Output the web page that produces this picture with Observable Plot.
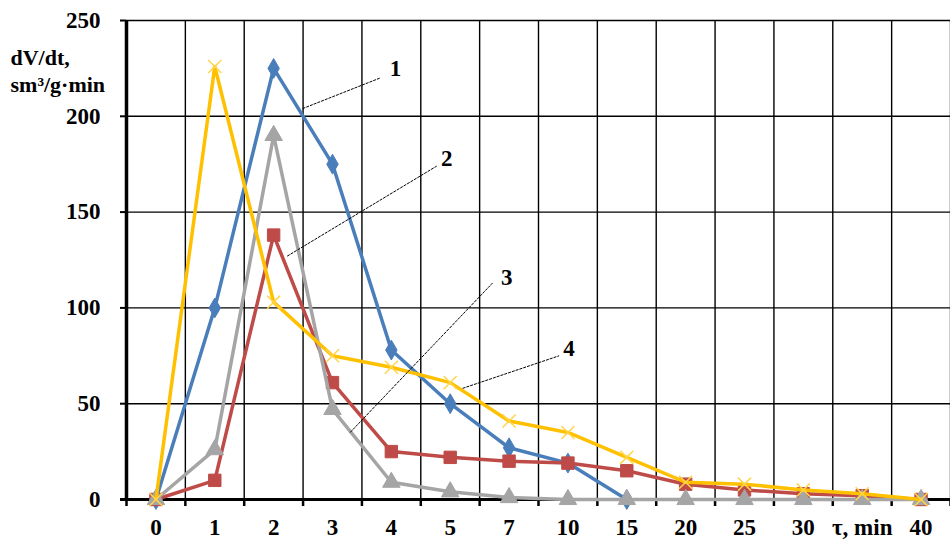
<!DOCTYPE html>
<html>
<head>
<meta charset="utf-8">
<script src="https://cdn.jsdelivr.net/npm/d3@7"></script>
<script src="https://cdn.jsdelivr.net/npm/@observablehq/plot@0.6"></script>
<style>
  html, body { margin: 0; padding: 0; background: #fff; }
  #chart { width: 950px; height: 548px; }
  svg { overflow: visible; }
</style>
</head>
<body>
<div id="chart"></div>
<script>
// Categories (τ, min) and the tick labels shown under them
const categories = ["0","1","2","3","4","5","7","10","15","20","25","30","35","40"];
const tickLabels = ["0","1","2","3","4","5","7","10","15","20","25","30","τ, min","40"];
const yTicks = [0, 50, 100, 150, 200, 250];

// Series values (dV/dt, sm³/g·min)
const series1 = [0, 100, 225, 175, 78, 50, 27, 19, 0];
const series2 = [0, 10, 138, 61, 25, 22, 20, 19, 15, 8, 5, 3, 2, 0];
const series3 = [0, 26, 190, 47, 9, 4, 1, 0, 0, 0, 0, 0, 0, 0];
const series4 = [0, 226, 103, 75, 69, 61, 41, 35, 22, 9, 8, 5, 3, 0];

// Callout labels and their leader lines (in category-index / value units)
const calloutNames = ["1", "2", "3", "4"];
const calloutFrom = [[2.49, 204], [2.23, 127], [3.30, 35], [5.21, 58]];
const calloutTo   = [[3.81, 220], [4.77, 174], [5.72, 113], [6.85, 75]];
const calloutText = [[4.07, 225], [4.94, 178], [5.96, 116], [7.02, 79]];

const seriesList = [
  {values: series1, color: "#4A7EBB", symbol: "diamond", r: 6},
  {values: series2, color: "#BE4B48", symbol: "square", r: 7},
  {values: series3, color: "#A5A5A5", symbol: "triangle", r: 6.5},
  {values: series4, color: "#FFC000", symbol: "times", r: 6}
];

const idx = categories.map((_, i) => i);
const boundaries = [-0.5, ...categories.map((_, i) => i + 0.5)];
const font = "'Liberation Serif', 'Times New Roman', serif";

const seriesMarks = seriesList.flatMap(s => {
  const rows = s.values.map((v, i) => ({i, v}));
  const dotOpts = s.symbol === "times"
    ? {x: "i", y: "v", symbol: "times", r: s.r, stroke: "#FFD54A", strokeWidth: 1.5}
    : {x: "i", y: "v", symbol: s.symbol, r: s.r, fill: s.color, stroke: s.color, strokeWidth: 1};
  return [
    Plot.line(rows, {x: "i", y: "v", stroke: s.color, strokeWidth: 3.5, strokeLinejoin: "round"}),
    Plot.dot(rows, dotOpts)
  ];
});

const callouts = calloutNames.map((n, k) => ({
  n, x1: calloutFrom[k][0], y1: calloutFrom[k][1], x2: calloutTo[k][0], y2: calloutTo[k][1],
  tx: calloutText[k][0], ty: calloutText[k][1]
}));

const chart = Plot.plot({
  width: 950,
  height: 548,
  marginLeft: 126,
  marginRight: 0,
  marginTop: 20,
  marginBottom: 49,
  style: {fontFamily: font, background: "#fff", overflow: "visible"},
  x: {domain: [-0.5, 13.5], axis: null},
  y: {domain: [0, 250], axis: null},
  marks: [
    Plot.ruleY(yTicks, {stroke: "#000", strokeWidth: 1.4}),
    Plot.ruleX(boundaries.slice(1), {stroke: "#000", strokeWidth: 1.4}),
    Plot.axisY(yTicks, {tickSize: 6, tickPadding: 20, fontSize: 23, fontWeight: "bold", strokeWidth: 2, label: null, fill: "#000"}),
    Plot.axisX(boundaries, {tickSize: 7, tickFormat: () => "", strokeWidth: 2.5, label: null}),
    Plot.axisX(idx, {tickSize: 0, tickPadding: 19, fontSize: 23, fontWeight: "bold", tickFormat: i => tickLabels[i], label: null, fill: "#000"}),
    Plot.ruleX([-0.5], {stroke: "#000", strokeWidth: 3.5}),
    Plot.ruleY([0], {stroke: "#000", strokeWidth: 3, x1: -0.6, x2: 13.5}),
    ...seriesMarks,
    Plot.link(callouts, {x1: "x1", y1: "y1", x2: "x2", y2: "y2", stroke: "#000", strokeWidth: 1, strokeDasharray: "3,1"}),
    Plot.text(callouts, {x: "tx", y: "ty", text: "n", fontSize: 23, fontWeight: "bold", fill: "#000"}),
    Plot.text(["dV/dt,\nsm³/g·min"], {frameAnchor: "top-left", dx: -116, dy: 49.5, textAnchor: "start", lineAnchor: "middle", lineHeight: 1.23, fontSize: 22, fontWeight: "bold", fill: "#000"})
  ]
});
document.getElementById("chart").appendChild(chart);
</script>
</body>
</html>
